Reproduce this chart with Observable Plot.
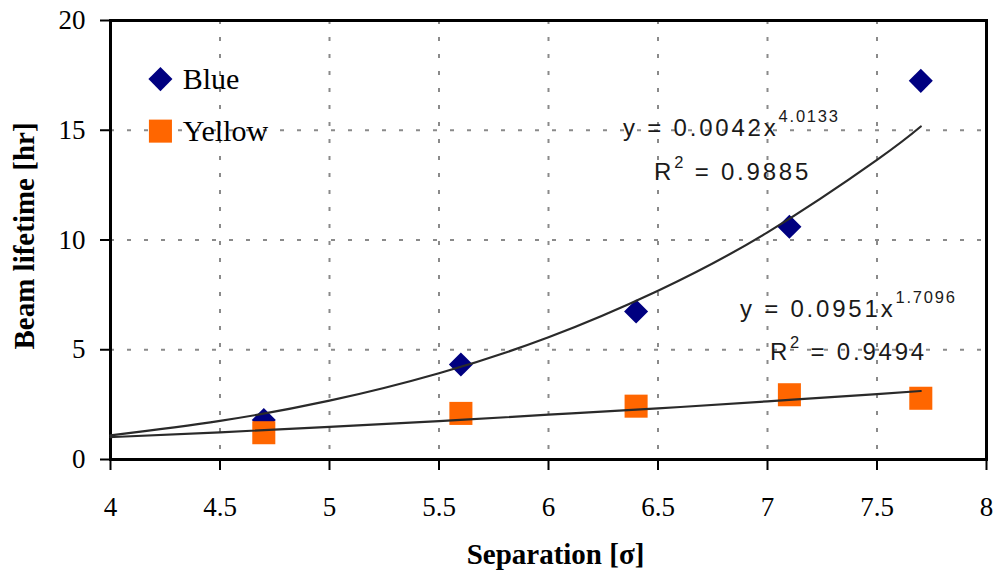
<!DOCTYPE html>
<html>
<head>
<meta charset="utf-8">
<script src="https://cdn.jsdelivr.net/npm/d3@7"></script>
<script src="https://cdn.jsdelivr.net/npm/@observablehq/plot@0.6"></script>
<style>
  html, body { margin: 0; padding: 0; background: #fff; }
</style>
</head>
<body>
<div id="chart"></div>
<script>
// ---- data ----
const separation = [4.7, 5.6, 6.4, 7.1, 7.7];
const blueLifetime = [1.8, 4.33, 6.74, 10.6, 17.25];
const yellowLifetime = [1.22, 2.1, 2.43, 2.95, 2.79];

// power-law trend lines as drawn in the picture (sampled)
const fitX = [4, 4.5, 5, 5.5, 6, 6.5, 7, 7.5, 7.7];
const blueFit = [1.10, 1.76, 2.68, 3.93, 5.57, 7.69, 10.35, 13.65, 15.17];
const yellowFit = [1.02, 1.24, 1.49, 1.75, 2.04, 2.33, 2.65, 2.98, 3.12];

const xTicks = [4, 4.5, 5, 5.5, 6, 6.5, 7, 7.5, 8];
const yTicks = [0, 5, 10, 15, 20];

const seriesNames = ["Blue", "Yellow"];
const seriesColors = ["#000080", "#ff6600"];
const legendSymbolX = [4.228, 4.228];
const legendTextX = [4.33, 4.33];
const legendY = [17.33, 14.96];

const equations = ["y = 0.0042x^4.0133", "R^2 = 0.9885", "y = 0.0951x^1.7096", "R^2 = 0.9494"];
const equationX = [6.34, 6.482, 6.874, 7.011];
const equationY = [15.1, 13.08, 6.86, 4.88];

const xTitle = "Separation [σ]";
const yTitle = "Beam lifetime [hr]";

const blueData = separation.map((x, i) => ({x, y: blueLifetime[i]}));
const yellowData = separation.map((x, i) => ({x, y: yellowLifetime[i]}));
const blueFitData = fitX.map((x, i) => ({x, y: blueFit[i]}));
const yellowFitData = fitX.map((x, i) => ({x, y: yellowFit[i]}));
const legendData = seriesNames.map((name, i) => ({name, sx: legendSymbolX[i], tx: legendTextX[i], y: legendY[i], color: seriesColors[i], symbol: i === 0 ? "diamond" : "square"}));
const eqData = equations.map((t, i) => ({t, x: equationX[i], y: equationY[i]}));

const gridStyle = {stroke: "#8a8a8a", strokeOpacity: 1, strokeWidth: 2, strokeDasharray: "4,13"};

const chart = Plot.plot({
  width: 995,
  height: 572,
  marginLeft: 110,
  marginRight: 9,
  marginTop: 20,
  marginBottom: 113,
  style: {fontFamily: "'Liberation Serif', 'Times New Roman', serif", fontSize: "27px", color: "#000", background: "#fff"},
  x: {domain: [4, 8], label: null},
  y: {domain: [0, 20], label: null},
  marks: [
    Plot.gridX(xTicks.slice(1, -1), gridStyle),
    Plot.gridY(yTicks.slice(1, -1), gridStyle),
    Plot.axisX(xTicks, {tickSize: 11, tickPadding: 26, strokeWidth: 2, fontSize: 27, tickFormat: d => String(d), label: null}),
    Plot.axisY(yTicks, {tickSize: 10, tickPadding: 15, strokeWidth: 2, fontSize: 27, label: null}),
    Plot.frame({stroke: "#000", strokeWidth: 3}),
    Plot.dot(blueData, {x: "x", y: "y", symbol: "square", rotate: 45, r: 9.6, fill: seriesColors[0], stroke: "none"}),
    Plot.dot(yellowData, {x: "x", y: "y", symbol: "square", r: 13, fill: seriesColors[1], stroke: "none"}),
    Plot.line(blueFitData, {x: "x", y: "y", curve: "natural", stroke: "#2a2a2a", strokeWidth: 2.2}),
    Plot.line(yellowFitData, {x: "x", y: "y", curve: "natural", stroke: "#2a2a2a", strokeWidth: 2.2}),
    // legend
    Plot.dot(legendData.filter(d => d.symbol === "diamond"), {x: "sx", y: "y", symbol: "square", rotate: 45, r: 9.6, fill: "color", stroke: "none"}),
    Plot.dot(legendData.filter(d => d.symbol === "square"), {x: "sx", y: "y", symbol: "square", r: 13, fill: "color", stroke: "none"}),
    Plot.text(legendData, {x: "tx", y: "y", text: "name", textAnchor: "start", lineAnchor: "middle", fontSize: 30, fill: "#000"}),
    // equations
    Plot.text(eqData, {x: "x", y: "y", text: "t", textAnchor: "start", lineAnchor: "middle", fontSize: 24, fontFamily: "'Liberation Sans', Arial, sans-serif", fill: "#1a1a1a"}),
    // axis titles
    Plot.text([xTitle], {frameAnchor: "bottom", textAnchor: "middle", lineAnchor: "bottom", dx: 7, dy: 104, fontSize: 29, fontWeight: "bold"}),
    Plot.text([yTitle], {frameAnchor: "left", textAnchor: "middle", lineAnchor: "middle", rotate: -90, dx: -86, dy: -4, fontSize: 29, fontWeight: "bold"})
  ]
});

// turn "^" notation into superscripts
const NS = "http://www.w3.org/2000/svg";
chart.querySelectorAll("text").forEach(t => {
  const s = t.textContent;
  if (!s.includes("^")) return;
  const m = s.match(/^(.*?)\^(\S+)(.*)$/);
  if (!m) return;
  const isR = m[1] === "R";
  const raise = isR ? 12 : 14;
  t.textContent = "";
  t.setAttribute("letter-spacing", "2.8px");
  t.appendChild(document.createTextNode(m[1]));
  const sup = document.createElementNS(NS, "tspan");
  sup.setAttribute("dy", -raise);
  sup.setAttribute("font-size", "16.5px");
  sup.setAttribute("letter-spacing", "1.8px");
  sup.textContent = m[2];
  t.appendChild(sup);
  if (m[3]) {
    const rest = document.createElementNS(NS, "tspan");
    rest.setAttribute("dy", raise);
    rest.textContent = m[3];
    t.appendChild(rest);
  }
});

document.getElementById("chart").appendChild(chart);
</script>
</body>
</html>
